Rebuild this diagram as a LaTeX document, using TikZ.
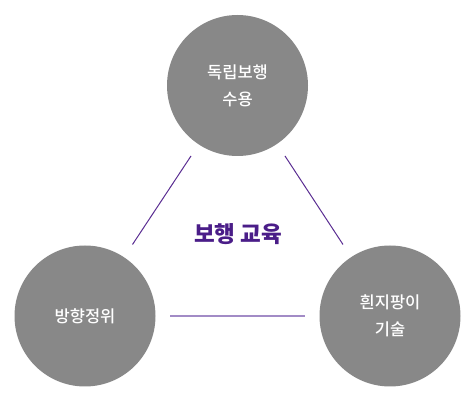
\documentclass[tikz,border=0pt]{standalone}
\usepackage{fontspec}
\setmainfont{Noto Sans CJK KR}
\newfontfamily\medfont{Noto Sans CJK KR Medium}
\definecolor{circgray}{HTML}{888888}
\definecolor{darkpurple}{HTML}{5A2D92}
\definecolor{lightpurple}{HTML}{A28BC6}
\definecolor{titlepurple}{HTML}{4A1D88}
\begin{document}
\begin{tikzpicture}[x=1pt,y=-1pt,
  topic/.style={circle,fill=circgray,minimum size=141pt,inner sep=0pt,text=white,
    font=\medfont\fontsize{16.5}{27}\selectfont,align=center},
  link/.style={draw=darkpurple,line width=1pt},
  baselink/.style={draw=lightpurple,line width=1.8pt}]
\useasboundingbox (0,0) rectangle (475,401);
\node[topic] (a) at (237.5,85.5) {독립보행\\수용};
\node[topic] (b) at (85,316) {방향정위};
\node[topic] (c) at (390,316) {흰지팡이\\기술};
\node[text=titlepurple,font=\fontsize{22.5}{26}\selectfont\bfseries] (t) at (238,234) {보행 교육};
\coordinate (a1) at (191,156);
\coordinate (b1) at (132.5,244.5);
\coordinate (a2) at (285,156);
\coordinate (c1) at (343,244.5);
\coordinate (b2) at (170,315.7);
\coordinate (c2) at (305,315.7);
\draw[link] (a1) -- (b1);
\draw[link] (a2) -- (c1);
\draw[baselink] (b2) -- (c2);
\end{tikzpicture}
\end{document}
